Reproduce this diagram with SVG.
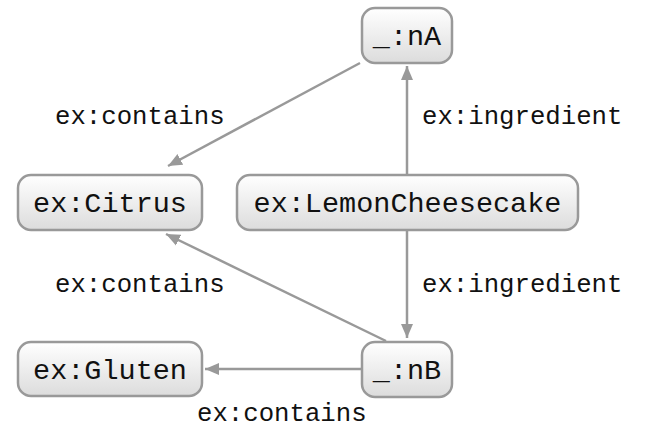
<svg xmlns="http://www.w3.org/2000/svg" width="646" height="429" viewBox="0 0 646 429">
<style>
.node rect{fill:url(#g);stroke:#999;stroke-width:2.5}
.node text{font-family:"Liberation Mono","DejaVu Sans Mono",monospace;font-size:28.5px;fill:#111;text-anchor:middle}
.edge line{stroke:#999;stroke-width:2.5;marker-end:url(#arr)}
.lbl{font-family:"Liberation Mono","DejaVu Sans Mono",monospace;font-size:25.7px;fill:#111}
</style>
<defs>
<linearGradient id="g" x1="0" y1="0" x2="0" y2="1">
<stop offset="0" stop-color="#ffffff"/>
<stop offset="1" stop-color="#dcdcdc"/>
</linearGradient>
<marker id="arr" markerUnits="userSpaceOnUse" markerWidth="16" markerHeight="14" refX="14" refY="6" orient="auto" viewBox="0 0 16 12">
<path d="M0,0 L14,6 L0,12 Z" fill="#999"/>
</marker>
</defs>
<g id="connectors" class="edge">
<line x1="407" y1="175" x2="407" y2="66"/>
<line x1="407" y1="230" x2="407" y2="338"/>
<line x1="360" y1="63" x2="168" y2="166"/>
<line x1="386" y1="341" x2="166" y2="234"/>
<line x1="362" y1="369" x2="205" y2="369"/>
</g>
<g id="labels">
<text class="lbl" x="55" y="124">ex:contains</text>
<text class="lbl" x="422" y="124">ex:ingredient</text>
<text class="lbl" x="55" y="292">ex:contains</text>
<text class="lbl" x="422" y="292">ex:ingredient</text>
<text class="lbl" x="197" y="421">ex:contains</text>
</g>
<g id="nA" class="node"><rect x="362" y="8" width="90" height="55" rx="13"/><text x="407" y="45">_:nA</text></g>
<g id="Citrus" class="node"><rect x="18" y="175" width="184" height="55" rx="13"/><text x="110" y="212">ex:Citrus</text></g>
<g id="LemonCheesecake" class="node"><rect x="237" y="175" width="341" height="55" rx="13"/><text x="407.5" y="212">ex:LemonCheesecake</text></g>
<g id="Gluten" class="node"><rect x="18" y="342" width="184" height="54" rx="13"/><text x="110" y="379">ex:Gluten</text></g>
<g id="nB" class="node"><rect x="362" y="342" width="90" height="55" rx="13"/><text x="407" y="379">_:nB</text></g>
</svg>
